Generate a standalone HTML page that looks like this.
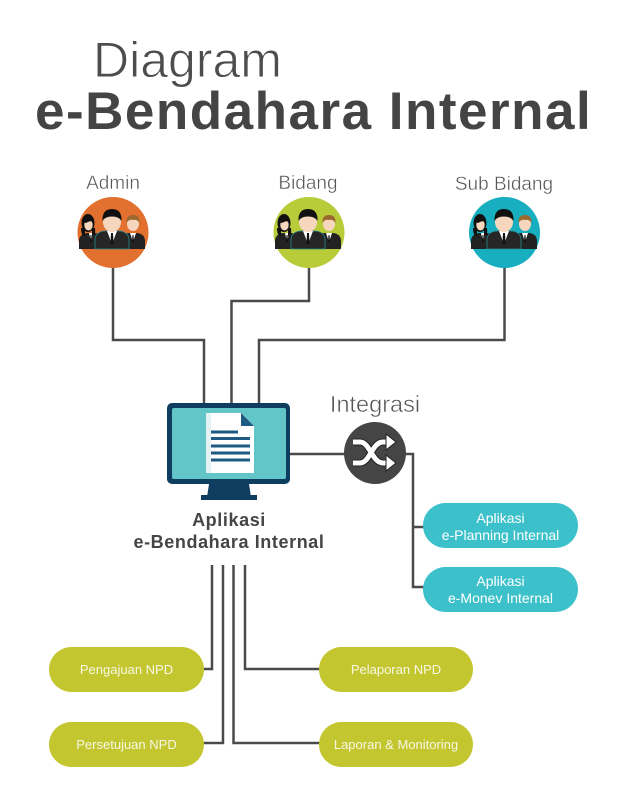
<!DOCTYPE html>
<html><head><meta charset="utf-8"><style>
html,body{margin:0;padding:0;background:#fff;}
svg{display:block;}
text{font-family:"Liberation Sans",Arial,sans-serif;}
</style></head><body>
<svg width="630" height="800" viewBox="0 0 630 800" xmlns="http://www.w3.org/2000/svg">
<defs>
<g id="people">
  <!-- left woman -->
  <path d="M-33,17 L-33,8 Q-32,2 -25,1 L-16,1 Q-11,2 -10,8 L-10,17 Z" fill="#222"/>
  <path d="M-23,1 L-21,10 L-19,1 Z" fill="#fff"/>
  <path d="M-21.5,3 L-20.5,3 L-20,10 L-22,10 Z" fill="#111"/>
  <ellipse cx="-24" cy="-9" rx="6.5" ry="9" fill="#111"/>
  <path d="M-31,-4 Q-31,4 -27,4 L-27,-4 Z" fill="#111"/>
  <path d="M-17,-4 Q-16,4 -20,4 L-20,-4 Z" fill="#111"/>
  <ellipse cx="-23.5" cy="-7" rx="4.2" ry="5.5" fill="#f6d7be"/>
  <path d="M-29,-10 Q-24,-16 -18,-10 Q-22,-12 -26,-9 Z" fill="#111"/>
  <!-- right man -->
  <path d="M8,17 L8,8 Q9,2 16,1 L26,1 Q32,2 33,8 L33,17 Z" fill="#222"/>
  <path d="M18,1 L21,10 L24,1 Z" fill="#fff"/>
  <path d="M20.5,3 L21.5,3 L22,10 L20,10 Z" fill="#111"/>
  <ellipse cx="21" cy="-8" rx="6" ry="7" fill="#f6d7be"/>
  <path d="M14.5,-9 Q14,-17 21,-17 Q28,-17 27.5,-9 Q25,-13 21,-12 Q17,-13 14.5,-9 Z" fill="#9a6a2e"/>
  <!-- middle man -->
  <path d="M-17,17 L-17,7 Q-16,0 -8,-1 L8,-1 Q16,0 17,7 L17,17 Z" fill="#262626" stroke="#2a8a8a" stroke-width="0.8"/>
  <path d="M-5,-1 L0,12 L5,-1 Z" fill="#fff"/>
  <path d="M-1,1 L1,1 L1.5,12 L-1.5,12 Z" fill="#111"/>
  <ellipse cx="0" cy="-10" rx="9" ry="10" fill="#f6d7be"/>
  <path d="M-9.5,-11 Q-10,-23 0,-23 Q10,-23 9.5,-11 Q7,-15.5 0,-15.5 Q-7,-15.5 -9.5,-11 Z" fill="#111"/>
</g>
</defs>

<!-- Title -->
<text x="93" y="77" font-size="50" fill="#4d4d4d" stroke="#fff" stroke-width="0.9">Diagram</text>
<text x="35" y="129" font-size="53" font-weight="bold" fill="#444" letter-spacing="1.5">e-Bendahara Internal</text>

<!-- Role labels -->
<g font-size="19" fill="#555" text-anchor="middle" stroke="#fff" stroke-width="0.4">
<text x="113" y="189">Admin</text>
<text x="308" y="189">Bidang</text>
<text x="504" y="190">Sub Bidang</text>
</g>

<!-- Connectors top -->
<g fill="none" stroke="#4a4a4a" stroke-width="2.5">
  <polyline points="113,266 113,340 204,340 204,404"/>
  <polyline points="309,266 309,301 231.5,301 231.5,404"/>
  <polyline points="504.5,266 504.5,340 259,340 259,404"/>
  <!-- integration -->
  <line x1="290" y1="454" x2="345" y2="454"/>
  <polyline points="404,454 413,454 413,587 424,587"/>
  <line x1="413" y1="527" x2="424" y2="527"/>
  <!-- bottom -->
  <polyline points="212,565 212,669 203,669"/>
  <polyline points="223,565 223,743 203,743"/>
  <polyline points="233.5,565 233.5,743 320,743"/>
  <polyline points="245,565 245,669 320,669"/>
</g>

<!-- Role circles -->
<circle cx="113" cy="232.5" r="35.5" fill="#E2702F"/>
<circle cx="309" cy="232.5" r="35.5" fill="#B8CB38"/>
<circle cx="504.5" cy="232.5" r="35.5" fill="#17AEC0"/>
<use href="#people" x="112" y="232"/>
<use href="#people" x="308" y="232"/>
<use href="#people" x="504" y="232"/>

<!-- Monitor -->
<rect x="167" y="403" width="123" height="81" rx="5" fill="#0E3D60"/>
<rect x="172" y="408" width="114" height="71" rx="2" fill="#62C6C8"/>
<path d="M209,484 L249,484 L251,497 L207,497 Z" fill="#0E3D60"/>
<rect x="201" y="495" width="56" height="5" fill="#0E3D60"/>
<path d="M206,413 L241,413 L254,426 L254,473 L206,473 Z" fill="#fff"/>
<path d="M206,413 L211,413 L211,473 L206,473 Z" fill="#e4f2f3"/>
<path d="M241,413 L254,426 L241,426 Z" fill="#1E5A82"/>
<g fill="#1E5A82">
  <rect x="211" y="430.5" width="27" height="3"/>
  <rect x="211" y="437" width="39" height="3"/>
  <rect x="211" y="444.5" width="39" height="3"/>
  <rect x="211" y="451.5" width="39" height="3"/>
  <rect x="211" y="458.5" width="39" height="3"/>
</g>

<text x="229" y="526" font-size="18" font-weight="bold" fill="#454545" text-anchor="middle" letter-spacing="0.6">Aplikasi</text>
<text x="229" y="548" font-size="18" font-weight="bold" fill="#454545" text-anchor="middle" letter-spacing="0.6">e-Bendahara Internal</text>

<!-- Integrasi -->
<text x="375" y="412" font-size="23.5" fill="#555" text-anchor="middle" stroke="#fff" stroke-width="0.5">Integrasi</text>
<circle cx="375" cy="453" r="31" fill="#454545"/>
<g fill="none" stroke-linecap="butt" stroke-linejoin="round">
  <path d="M353,442 L360,442 C370,442 372,463 383,463 L388,463" stroke="#222" stroke-width="7"/>
  <path d="M353,463 L360,463 C370,463 372,442 383,442 L388,442" stroke="#222" stroke-width="7"/>
  <path d="M353,442 L360,442 C370,442 372,463 383,463 L388,463" stroke="#fff" stroke-width="5"/>
  <path d="M353,463 L360,463 C370,463 372,442 383,442 L388,442" stroke="#fff" stroke-width="5"/>
</g>
<path d="M386,434 L396,442 L386,450 Z" fill="#fff" stroke="#222" stroke-width="1"/>
<path d="M386,455 L396,463 L386,471 Z" fill="#fff" stroke="#222" stroke-width="1"/>

<!-- Teal pills -->
<rect x="423" y="503" width="155" height="45" rx="22.5" fill="#3CC0CA"/>
<rect x="423" y="567" width="155" height="45" rx="22.5" fill="#3CC0CA"/>
<g font-size="14" fill="#fff" text-anchor="middle">
  <text x="500.5" y="523">Aplikasi</text>
  <text x="500.5" y="540">e-Planning Internal</text>
  <text x="500.5" y="586">Aplikasi</text>
  <text x="500.5" y="603">e-Monev Internal</text>
</g>

<!-- Olive pills -->
<g fill="#C4C62F">
  <rect x="49" y="647" width="155" height="45" rx="22.5"/>
  <rect x="49" y="722" width="155" height="45" rx="22.5"/>
  <rect x="319" y="647" width="154" height="45" rx="22.5"/>
  <rect x="319" y="722" width="154" height="45" rx="22.5"/>
</g>
<g font-size="13" fill="#f7f7e6" text-anchor="middle">
  <text x="126.5" y="674">Pengajuan NPD</text>
  <text x="126.5" y="749">Persetujuan NPD</text>
  <text x="396" y="674">Pelaporan NPD</text>
  <text x="396" y="749">Laporan &amp; Monitoring</text>
</g>
</svg>
</body></html>
